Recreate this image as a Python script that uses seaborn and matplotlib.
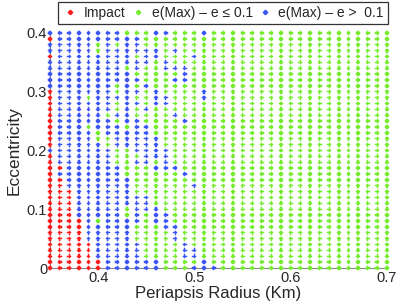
import numpy as np
import pandas as pd
import matplotlib
matplotlib.use("Agg")
import matplotlib.pyplot as plt
import seaborn as sns

# Grid of initial conditions
periapsis = [round(0.35 + 0.01 * i, 2) for i in range(36)]   # x (Km)
eccentricity = [round(0.01 * j, 2) for j in range(41)]        # y

# Classification per grid row (top row = e 0.40 ... bottom row = e 0.00)
# R = Impact, G = e(Max)-e <= 0.1, B = e(Max)-e > 0.1 ; columns x = 0.35 .. 0.54
class_rows_left = [
    "BBBB" "BBBBGG" "GBBGGGBGGG",  # 0.40
    "RBBB" "BBBBBB" "GGGGGGGGGG",  # 0.39
    "BBBB" "BGBGBB" "GGGGGGGGGG",  # 0.38
    "BBBB" "BGBBBB" "BBGBGGGGGG",  # 0.37
    "RBBB" "BBBBBG" "BBGGGBGGGG",  # 0.36
    "BBBB" "BBBBBB" "BGBGGGGGGG",  # 0.35
    "BBBB" "BBBBGB" "GGBBBGGGGG",  # 0.34
    "BBBB" "BBBBBG" "GGGGBGGGGG",  # 0.33
    "BBBB" "BBBBBB" "GGGBBGGGGG",  # 0.32
    "BBBB" "BBBGBG" "BGGGGGGGGG",  # 0.31
    "RBBB" "BBBGBB" "GBGGGGBGGG",  # 0.30
    "RBBB" "GBBBBG" "GBBGGGBGGG",  # 0.29
    "RBBB" "BBBGBB" "GBBGGGGGGG",  # 0.28
    "RBBB" "BBBGBG" "BGGGGGGGGG",  # 0.27
    "RBBB" "BBGBBG" "GGGBGGGGGG",  # 0.26
    "RBBB" "BBBGBB" "GGGGBGGGGG",  # 0.25
    "RBBB" "GBBBGB" "BGGGGGGGGG",  # 0.24
    "RBBB" "BGBBBB" "BGGGGGGGGG",  # 0.23
    "RBBB" "BGGBBB" "BBGGGGGGGG",  # 0.22
    "RBBB" "BBGBBB" "BBGGGGGGGG",  # 0.21
    "BBBB" "BBBGGB" "BBBGGGGGGG",  # 0.20
    "RBBB" "BBBGGG" "BBBGGGGGGG",  # 0.19
    "RBBB" "BBBGGB" "BGBGGGGGGG",  # 0.18
    "RRBB" "BBBBGG" "GBBBGGGGGG",  # 0.17
    "RBBB" "BBBBGG" "GGGGBGGGGG",  # 0.16
    "RRBB" "BBBBBG" "GGGGGGGGGG",  # 0.15
    "RRBB" "BBBBBG" "GGGGGBGGGG",  # 0.14
    "RRRB" "BBBBBG" "GGGGGGGGGG",  # 0.13
    "RRRB" "BBBBBB" "BGGGGGGGGG",  # 0.12
    "RRRB" "BBBBBB" "BGGGGGGGGG",  # 0.11
    "RRRB" "BBBBGB" "BBGGGGGGGG",  # 0.10
    "RRRB" "BBBBGB" "GBBGGGGGGG",  # 0.09
    "RRRR" "BGBBBB" "GBBGGGGGGG",  # 0.08
    "RRRR" "BBBBBG" "GGBBGGGGGG",  # 0.07
    "RRRR" "BBBBBG" "GGGBGGGGGG",  # 0.06
    "RRRR" "BBBBBG" "GGGBGGGGGG",  # 0.05
    "RRRR" "RBBBBB" "GGGGBGGGGG",  # 0.04
    "RRRR" "RBBBBB" "GGGGBBGGGG",  # 0.03
    "RRRR" "RBBBBB" "GGGGBBGGGG",  # 0.02
    "RRRR" "RRBBBB" "BBGGGGBGGG",  # 0.01
    "RRRR" "RRBBBB" "BBGGGBBBGG",  # 0.00
]
class_right = "G" * 16  # columns x = 0.55 .. 0.70 are all "<= 0.1"

labels = {"R": "Impact",
          "G": "e(Max) \u2013 e \u2264 0.1",
          "B": "e(Max) \u2013 e >  0.1"}
colors = {"Impact": "#ff1a1a",
          "e(Max) \u2013 e \u2264 0.1": "#74ec2c",
          "e(Max) \u2013 e >  0.1": "#3b55f5"}

recs = []
for k, row in enumerate(class_rows_left):
    full = row + class_right
    e = eccentricity[len(eccentricity) - 1 - k]
    for i, c in enumerate(full):
        recs.append((periapsis[i], e, labels[c]))
df = pd.DataFrame(recs, columns=["Periapsis Radius (Km)", "Eccentricity", "Class"])

sns.set_style("white")
plt.rcParams["font.family"] = ["Liberation Sans", "DejaVu Sans"]

fig = plt.figure(figsize=(3.99, 3.04), dpi=100)
ax = fig.add_axes([50 / 399, 1 - 268 / 304, 337 / 399, 235 / 304])

hue_order = ["Impact", "e(Max) \u2013 e \u2264 0.1", "e(Max) \u2013 e >  0.1"]
sns.scatterplot(data=df, x="Periapsis Radius (Km)", y="Eccentricity", hue="Class",
                hue_order=hue_order, palette=colors, marker="P", s=8,
                edgecolor="face", linewidth=0.35, ax=ax, legend=False,
                clip_on=False, zorder=3)

ax.set_xlim(0.35, 0.70)
ax.set_ylim(0, 0.40)
ax.set_xticks([0.4, 0.5, 0.6, 0.7])
ax.set_xticklabels(["0.4", "0.5", "0.6", "0.7"])
ax.set_yticks([0, 0.1, 0.2, 0.3, 0.4])
ax.set_yticklabels(["0", "0.1", "0.2", "0.3", "0.4"])
for s in ["top", "right"]:
    ax.spines[s].set_visible(False)
for s in ["left", "bottom"]:
    ax.spines[s].set_color("#888888")
    ax.spines[s].set_linewidth(0.8)
ax.tick_params(direction="in", length=3, color="#888888", labelsize=10.5, pad=2)
ax.set_xlabel("Periapsis Radius (Km)", fontsize=12, labelpad=1)
ax.set_ylabel("Eccentricity", fontsize=12.5, labelpad=4)

handles = [plt.Line2D([], [], marker="P", linestyle="none", markersize=2.8,
                      markerfacecolor=colors[h], markeredgecolor=colors[h])
           for h in hue_order]
leg = fig.legend(handles, hue_order, loc="upper right",
                 bbox_to_anchor=(388 / 399, 1 - 2 / 304),
                 ncol=3, frameon=True, fancybox=False, edgecolor="black",
                 fontsize=10, handletextpad=0.4, columnspacing=0.25,
                 borderpad=0.3, handlelength=1.2, borderaxespad=0.0)
leg.get_frame().set_linewidth(0.9)

fig.savefig("out.png", dpi=100)
